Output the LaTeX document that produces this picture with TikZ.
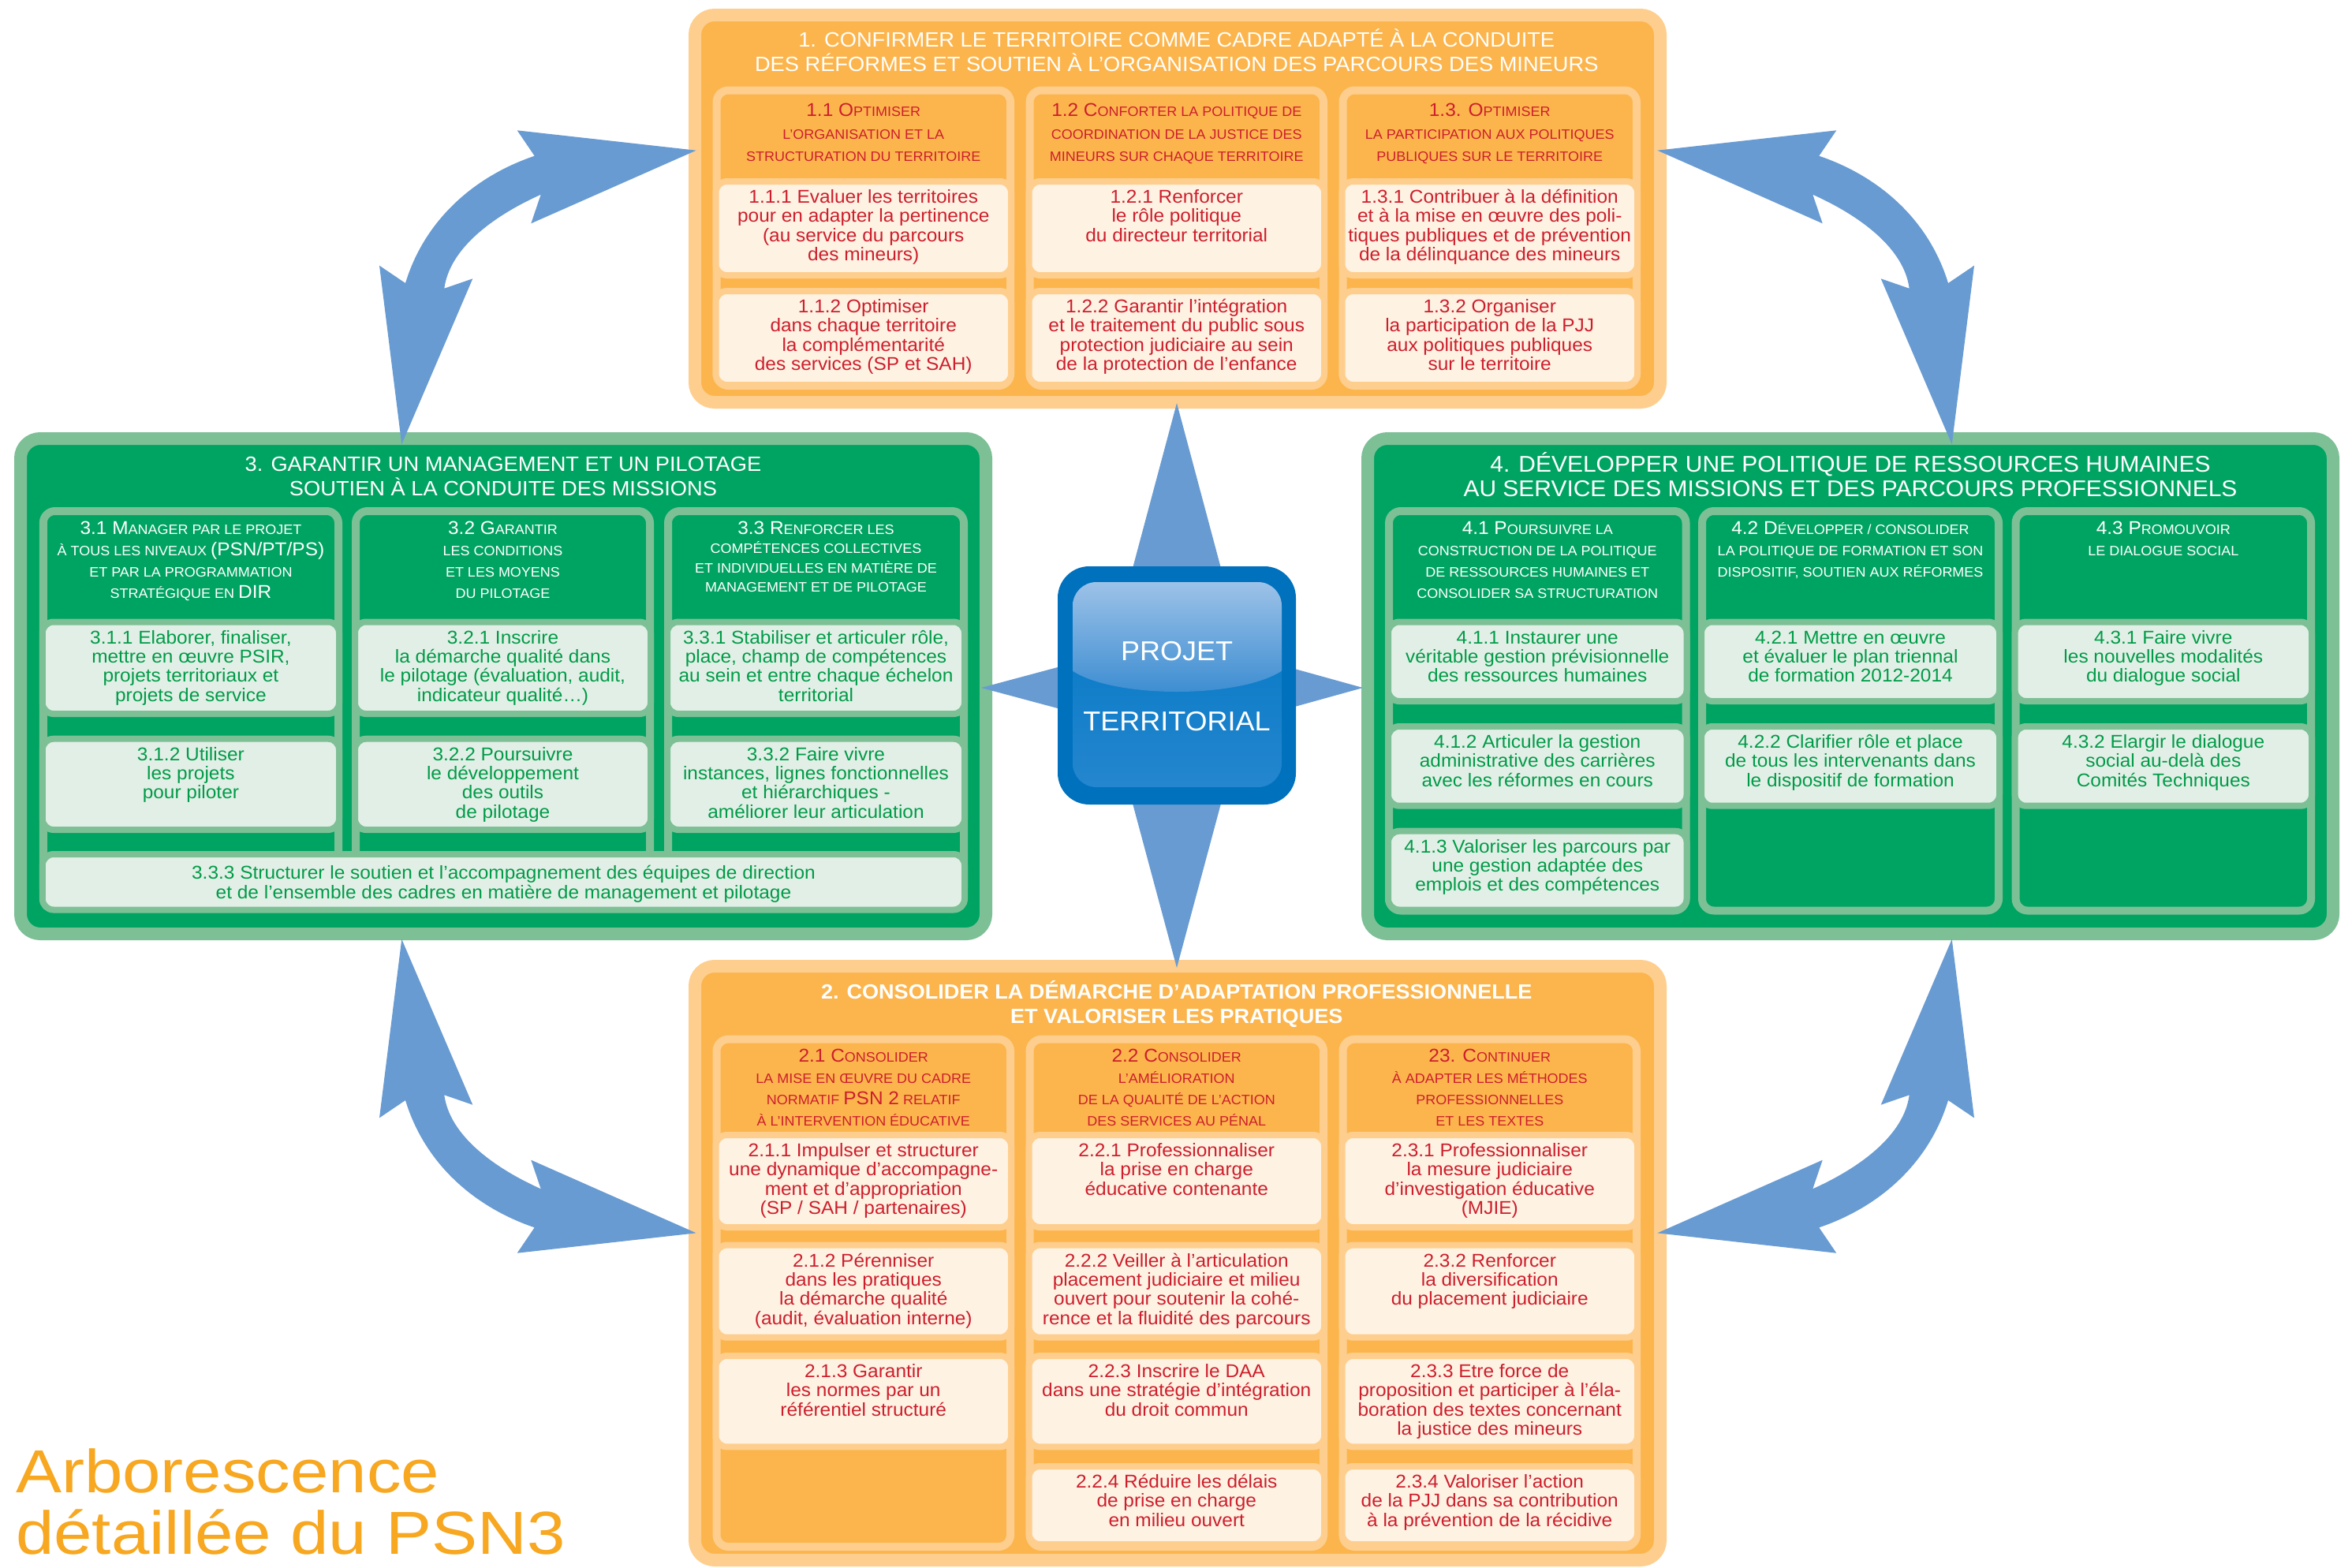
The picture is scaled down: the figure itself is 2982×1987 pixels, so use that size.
\documentclass[tikz,border=0pt]{standalone}
\usepackage{fontspec}
\setmainfont{Liberation Sans}[FakeStretch=1.04]
\newfontfamily\titlefont{Liberation Sans}[FakeStretch=1.13]
\usetikzlibrary{positioning}

\definecolor{orDark}{RGB}{252,181,77}
\definecolor{orLight}{RGB}{254,206,142}
\definecolor{orLeaf}{RGB}{254,242,226}
\definecolor{redTxt}{RGB}{205,30,45}
\definecolor{grDark}{RGB}{0,164,98}
\definecolor{grLight}{RGB}{125,192,150}
\definecolor{grLeaf}{RGB}{226,239,230}
\definecolor{grTxt}{RGB}{0,155,72}
\definecolor{arrowBlue}{RGB}{104,155,210}
\definecolor{coreBlue}{RGB}{0,113,189}
\definecolor{coreTop}{RGB}{0,118,196}
\definecolor{coreBot}{RGB}{36,134,206}
\definecolor{hiTop}{RGB}{160,196,233}
\definecolor{hiBot}{RGB}{55,138,208}
\definecolor{titleOr}{RGB}{247,167,32}

% strut for the first line, small caps done by hand
\newcommand\st{\rule{0pt}{1.2em}}
\newcommand\bigsc[1]{{\fontsize{23.5}{27}\selectfont #1}}

\begin{document}
\begin{tikzpicture}[x=1pt,y=-1pt,
  outerO/.style={draw=orLight,fill=orDark,line width=16pt,rounded corners=25pt},
  outerG/.style={draw=grLight,fill=grDark,line width=16pt,rounded corners=25pt},
  colO/.style={draw=orLight,fill=orDark,line width=10pt,rounded corners=15pt},
  colG/.style={draw=grLight,fill=grDark,line width=10pt,rounded corners=15pt},
  leafO/.style={draw=orLight,fill=orLeaf,line width=8pt,rounded corners=14pt},
  leafG/.style={draw=grLight,fill=grLeaf,line width=8pt,rounded corners=14pt},
  txt/.style={anchor=north,align=center,inner sep=0pt,font=\fontsize{23.5}{24.3}\selectfont},
  txtO/.style={txt,text=redTxt},
  txtG/.style={txt,text=grTxt},
  head/.style={anchor=north,align=center,inner sep=0pt,font=\fontsize{17.3}{27}\selectfont},
  headO/.style={head,text=redTxt},
  headG/.style={head,text=white},
  ttl/.style={anchor=north,align=center,inner sep=0pt,text=white,font=\fontsize{26.2}{31.2}\selectfont}
]
  \useasboundingbox (0,0) rectangle (2982,1987);
  \fill[white] (0,0) rectangle (2982,1987);

  % the four blocks
  \draw[outerO] (881,19) rectangle (2105,510);
  \draw[outerO] (881,1225) rectangle (2105,1978);
  \draw[outerG] (26,556) rectangle (1250,1184);
  \draw[outerG] (1734,556) rectangle (2958,1184);

  % columns
  \foreach \xa/\xb in {903.5/1286,1300.5/1683,1697.5/2080} {
    \draw[colO] (\xa+5,114.5) rectangle (\xb-5,489);
    \draw[colO] (\xa+5,1317.6) rectangle (\xb-5,1961);
  }
  \foreach \xa/\xb in {49.8/434,446/829,842/1227}
    \draw[colG] (\xa+5,648) rectangle (\xb-5,1140);
  \foreach \xa/\xb in {1756/2142.5,2153/2539,2550.6/2935}
    \draw[colG] (\xa+5,648) rectangle (\xb-5,1154.5);

  % leaves
  \foreach \xa/\xb in {903.5/1286,1300.5/1683,1697.5/2080} {
    \foreach \ya/\yb in {234/345,373/484,1443/1552,1582.6/1691.7,1723/1830.4}
      \draw[leafO] (\xa+4,\ya-4) rectangle (\xb-4,\yb+4);
  }
  \foreach \xa/\xb in {1300.5/1683,1697.5/2080}
    \draw[leafO] (\xa+4,1859) rectangle (\xb-4,1958);
  \foreach \xa/\xb in {49.8/434,446/829,842/1227}
    \foreach \ya/\yb in {792.5/901,940.7/1048}
      \draw[leafG] (\xa+4,\ya-4) rectangle (\xb-4,\yb+4);
  \draw[leafG] (53.8,1083) rectangle (1223,1153.5);
  \foreach \xa/\xb in {1756/2142.5,2153/2539,2550.6/2935}
    \foreach \ya/\yb in {792.5/885,925/1017.7}
      \draw[leafG] (\xa+4,\ya-4) rectangle (\xb-4,\yb+4);
  \draw[leafG] (1760,1053.7) rectangle (2138.5,1153.5);

  % block 1
  \node[ttl] (t1) at (1491.75,27.8) {\st 1. CONFIRMER LE TERRITOIRE COMME CADRE ADAPTÉ À LA CONDUITE\\DES RÉFORMES ET SOUTIEN À L'ORGANISATION DES PARCOURS DES MINEURS};
  \node[headO,font=\fontsize{17.3}{28.5}\selectfont] (h11) at (1094.75,127) {\st\bigsc{1.1 O}PTIMISER\\L'ORGANISATION ET LA\\STRUCTURATION DU TERRITOIRE};
  \node[headO,font=\fontsize{17.3}{28.5}\selectfont] (h12) at (1491.75,127) {\st\bigsc{1.2 C}ONFORTER LA POLITIQUE DE\\COORDINATION DE LA JUSTICE DES\\MINEURS SUR CHAQUE TERRITOIRE};
  \node[headO,font=\fontsize{17.3}{28.5}\selectfont] (h13) at (1888.75,127) {\st\bigsc{1.3. O}PTIMISER\\LA PARTICIPATION AUX POLITIQUES\\PUBLIQUES SUR LE TERRITOIRE};
  \node[txtO] (l111) at (1094.75,229.2) {\st 1.1.1 Evaluer les territoires\\pour en adapter la pertinence\\(au service du parcours\\des mineurs)};
  \node[txtO] (l112) at (1094.75,368.2) {\st 1.1.2 Optimiser\\dans chaque territoire\\la complémentarité\\des services (SP et SAH)};
  \node[txtO] (l121) at (1491.75,229.2) {\st 1.2.1 Renforcer\\le rôle politique\\du directeur territorial};
  \node[txtO] (l122) at (1491.75,368.2) {\st 1.2.2 Garantir l'intégration\\et le traitement du public sous\\protection judiciaire au sein\\de la protection de l'enfance};
  \node[txtO] (l131) at (1888.75,229.2) {\st 1.3.1 Contribuer à la définition\\et à la mise en œuvre des poli-\\tiques publiques et de prévention\\de la délinquance des mineurs};
  \node[txtO] (l132) at (1888.75,368.2) {\st 1.3.2 Organiser\\la participation de la PJJ\\aux politiques publiques\\sur le territoire};

  % block 2
  \node[ttl,font=\bfseries\fontsize{26}{31.3}\selectfont] (t2) at (1491.75,1235.2) {\st 2. CONSOLIDER LA DÉMARCHE D'ADAPTATION PROFESSIONNELLE\\ET VALORISER LES PRATIQUES};
  \node[headO] (h21) at (1094.75,1325.6) {\st\bigsc{2.1 C}ONSOLIDER\\LA MISE EN ŒUVRE DU CADRE\\NORMATIF \bigsc{PSN 2} RELATIF\\À L'INTERVENTION ÉDUCATIVE};
  \node[headO] (h22) at (1491.75,1325.6) {\st\bigsc{2.2 C}ONSOLIDER\\L'AMÉLIORATION\\DE LA QUALITÉ DE L'ACTION\\DES SERVICES AU PÉNAL};
  \node[headO] (h23) at (1888.75,1325.6) {\st\bigsc{23. C}ONTINUER\\À ADAPTER LES MÉTHODES\\PROFESSIONNELLES\\ET LES TEXTES};
  \node[txtO] (l211) at (1094.75,1438.2) {\st 2.1.1 Impulser et structurer\\une dynamique d'accompagne-\\ment et d'appropriation\\(SP / SAH / partenaires)};
  \node[txtO] (l212) at (1094.75,1577.8) {\st 2.1.2 Pérenniser\\dans les pratiques\\la démarche qualité\\(audit, évaluation interne)};
  \node[txtO] (l213) at (1094.75,1718.2) {\st 2.1.3 Garantir\\les normes par un\\référentiel structuré};
  \node[txtO] (l221) at (1491.75,1438.2) {\st 2.2.1 Professionnaliser\\la prise en charge\\éducative contenante};
  \node[txtO] (l222) at (1491.75,1577.8) {\st 2.2.2 Veiller à l'articulation\\placement judiciaire et milieu\\ouvert pour soutenir la cohé-\\rence et la fluidité des parcours};
  \node[txtO] (l223) at (1491.75,1718.2) {\st 2.2.3 Inscrire le DAA\\dans une stratégie d'intégration\\du droit commun};
  \node[txtO] (l224) at (1491.75,1858.2) {\st 2.2.4 Réduire les délais\\de prise en charge\\en milieu ouvert};
  \node[txtO] (l231) at (1888.75,1438.2) {\st 2.3.1 Professionnaliser\\la mesure judiciaire\\d'investigation éducative\\(MJIE)};
  \node[txtO] (l232) at (1888.75,1577.8) {\st 2.3.2 Renforcer\\la diversification\\du placement judiciaire};
  \node[txtO] (l233) at (1888.75,1718.2) {\st 2.3.3 Etre force de\\proposition et participer à l'éla-\\boration des textes concernant\\la justice des mineurs};
  \node[txtO] (l234) at (1888.75,1858.2) {\st 2.3.4 Valoriser l'action\\de la PJJ dans sa contribution\\à la prévention de la récidive};

  % block 3
  \node[ttl] (t3) at (638,565.4) {\st 3. GARANTIR UN MANAGEMENT ET UN PILOTAGE\\SOUTIEN À LA CONDUITE DES MISSIONS};
  \node[headG] (h31) at (241.9,656.2) {\st\bigsc{3.1 M}ANAGER PAR LE PROJET\\À TOUS LES NIVEAUX \bigsc{(PSN/PT/PS)}\\ET PAR LA PROGRAMMATION\\STRATÉGIQUE EN \bigsc{DIR}};
  \node[headG] (h32) at (637.5,656.2) {\st\bigsc{3.2 G}ARANTIR\\LES CONDITIONS\\ET LES MOYENS\\DU PILOTAGE};
  \node[headG,font=\fontsize{17.3}{24.5}\selectfont] (h33) at (1034.5,656.2) {\st\bigsc{3.3 R}ENFORCER LES\\COMPÉTENCES COLLECTIVES\\ET INDIVIDUELLES EN MATIÈRE DE\\MANAGEMENT ET DE PILOTAGE};
  \node[txtG] (l311) at (241.9,787.7) {\st 3.1.1 Elaborer, finaliser,\\mettre en œuvre PSIR,\\projets territoriaux et\\projets de service};
  \node[txtG] (l312) at (241.9,935.9) {\st 3.1.2 Utiliser\\les projets\\pour piloter};
  \node[txtG] (l321) at (637.5,787.7) {\st 3.2.1 Inscrire\\la démarche qualité dans\\le pilotage (évaluation, audit,\\indicateur qualité…)};
  \node[txtG] (l322) at (637.5,935.9) {\st 3.2.2 Poursuivre\\le développement\\des outils\\de pilotage};
  \node[txtG] (l331) at (1034.5,787.7) {\st 3.3.1 Stabiliser et articuler rôle,\\place, champ de compétences\\au sein et entre chaque échelon\\territorial};
  \node[txtG] (l332) at (1034.5,935.9) {\st 3.3.2 Faire vivre\\instances, lignes fonctionnelles\\et hiérarchiques -\\améliorer leur articulation};
  \node[txtG] (l333) at (638.5,1086.5) {\st 3.3.3 Structurer le soutien et l'accompagnement des équipes de direction\\et de l'ensemble des cadres en matière de management et pilotage};

  % block 4
  \node[ttl,font=\fontsize{28.8}{31.5}\selectfont] (t4) at (2346,563.3) {\st 4. DÉVELOPPER UNE POLITIQUE DE RESSOURCES HUMAINES\\AU SERVICE DES MISSIONS ET DES PARCOURS PROFESSIONNELS};
  \node[headG] (h41) at (1949.25,656.2) {\st\bigsc{4.1 P}OURSUIVRE LA\\CONSTRUCTION DE LA POLITIQUE\\DE RESSOURCES HUMAINES ET\\CONSOLIDER SA STRUCTURATION};
  \node[headG] (h42) at (2346,656.2) {\st\bigsc{4.2 D}ÉVELOPPER / CONSOLIDER\\LA POLITIQUE DE FORMATION ET SON\\DISPOSITIF, SOUTIEN AUX RÉFORMES};
  \node[headG] (h43) at (2742.8,656.2) {\st\bigsc{4.3 P}ROMOUVOIR\\LE DIALOGUE SOCIAL};
  \node[txtG] (l411) at (1949.25,787.7) {\st 4.1.1 Instaurer une\\véritable gestion prévisionnelle\\des ressources humaines};
  \node[txtG] (l412) at (1949.25,920.2) {\st 4.1.2 Articuler la gestion\\administrative des carrières\\avec les réformes en cours};
  \node[txtG] (l413) at (1949.25,1052.9) {\st 4.1.3 Valoriser les parcours par\\une gestion adaptée des\\emplois et des compétences};
  \node[txtG] (l421) at (2346,787.7) {\st 4.2.1 Mettre en œuvre\\et évaluer le plan triennal\\de formation 2012-2014};
  \node[txtG] (l422) at (2346,920.2) {\st 4.2.2 Clarifier rôle et place\\de tous les intervenants dans\\le dispositif de formation};
  \node[txtG] (l431) at (2742.8,787.7) {\st 4.3.1 Faire vivre\\les nouvelles modalités\\du dialogue social};
  \node[txtG] (l432) at (2742.8,920.2) {\st 4.3.2 Elargir le dialogue\\social au-delà des\\Comités Techniques};

  % star behind the centre
  \fill[arrowBlue] (1492,511) -- (1588,870) -- (1492,1227) -- (1396,870) -- cycle;
  \fill[arrowBlue] (1244,872) -- (1490,806) -- (1728,872) -- (1490,938) -- cycle;

  % centre
  \fill[coreBlue,rounded corners=40pt] (1341,718) rectangle (1643,1020);
  \shade[top color=coreTop,bottom color=coreBot,rounded corners=30pt] (1360,738) rectangle (1625,998);
  \begin{scope}
    \clip[rounded corners=30pt] (1360,738) rectangle (1625,998);
    \shade[top color=hiTop,bottom color=hiBot] (1355,733) -- (1630,733) -- (1630,847)
      .. controls (1580,887) and (1404,887) .. (1355,847) -- cycle;
  \end{scope}
  \node[align=center,inner sep=0pt,text=white,font=\fontsize{34.6}{89}\selectfont] (core) at (1492,870.5) {PROJET\\TERRITORIAL};

  % curved double arrows between the blocks
  \foreach \sx/\sy in {1/1,-1/1,1/-1,-1/-1}
    \fill[arrowBlue,shift={(1492,877)},xscale=\sx,yscale=\sy,shift={(-1492,-877)}]
      (882.7,190.7) -- (673.3,283.3) -- (685.7,246.7)
      .. controls (625,274) and (570,315) .. (563.3,365.7)
      -- (599.3,353.3) -- (509.3,563.3) -- (481,336.7) -- (514,359)
      .. controls (538,280) and (600,224) .. (677.7,197.7)
      -- (655.7,165.3) -- cycle;

  \node[anchor=north west,align=left,inner sep=0pt,text=titleOr,font=\titlefont\fontsize{77}{77.4}\selectfont] (psn) at (20,1800.2) {\st Arborescence\\détaillée du PSN3};
\end{tikzpicture}
\end{document}
